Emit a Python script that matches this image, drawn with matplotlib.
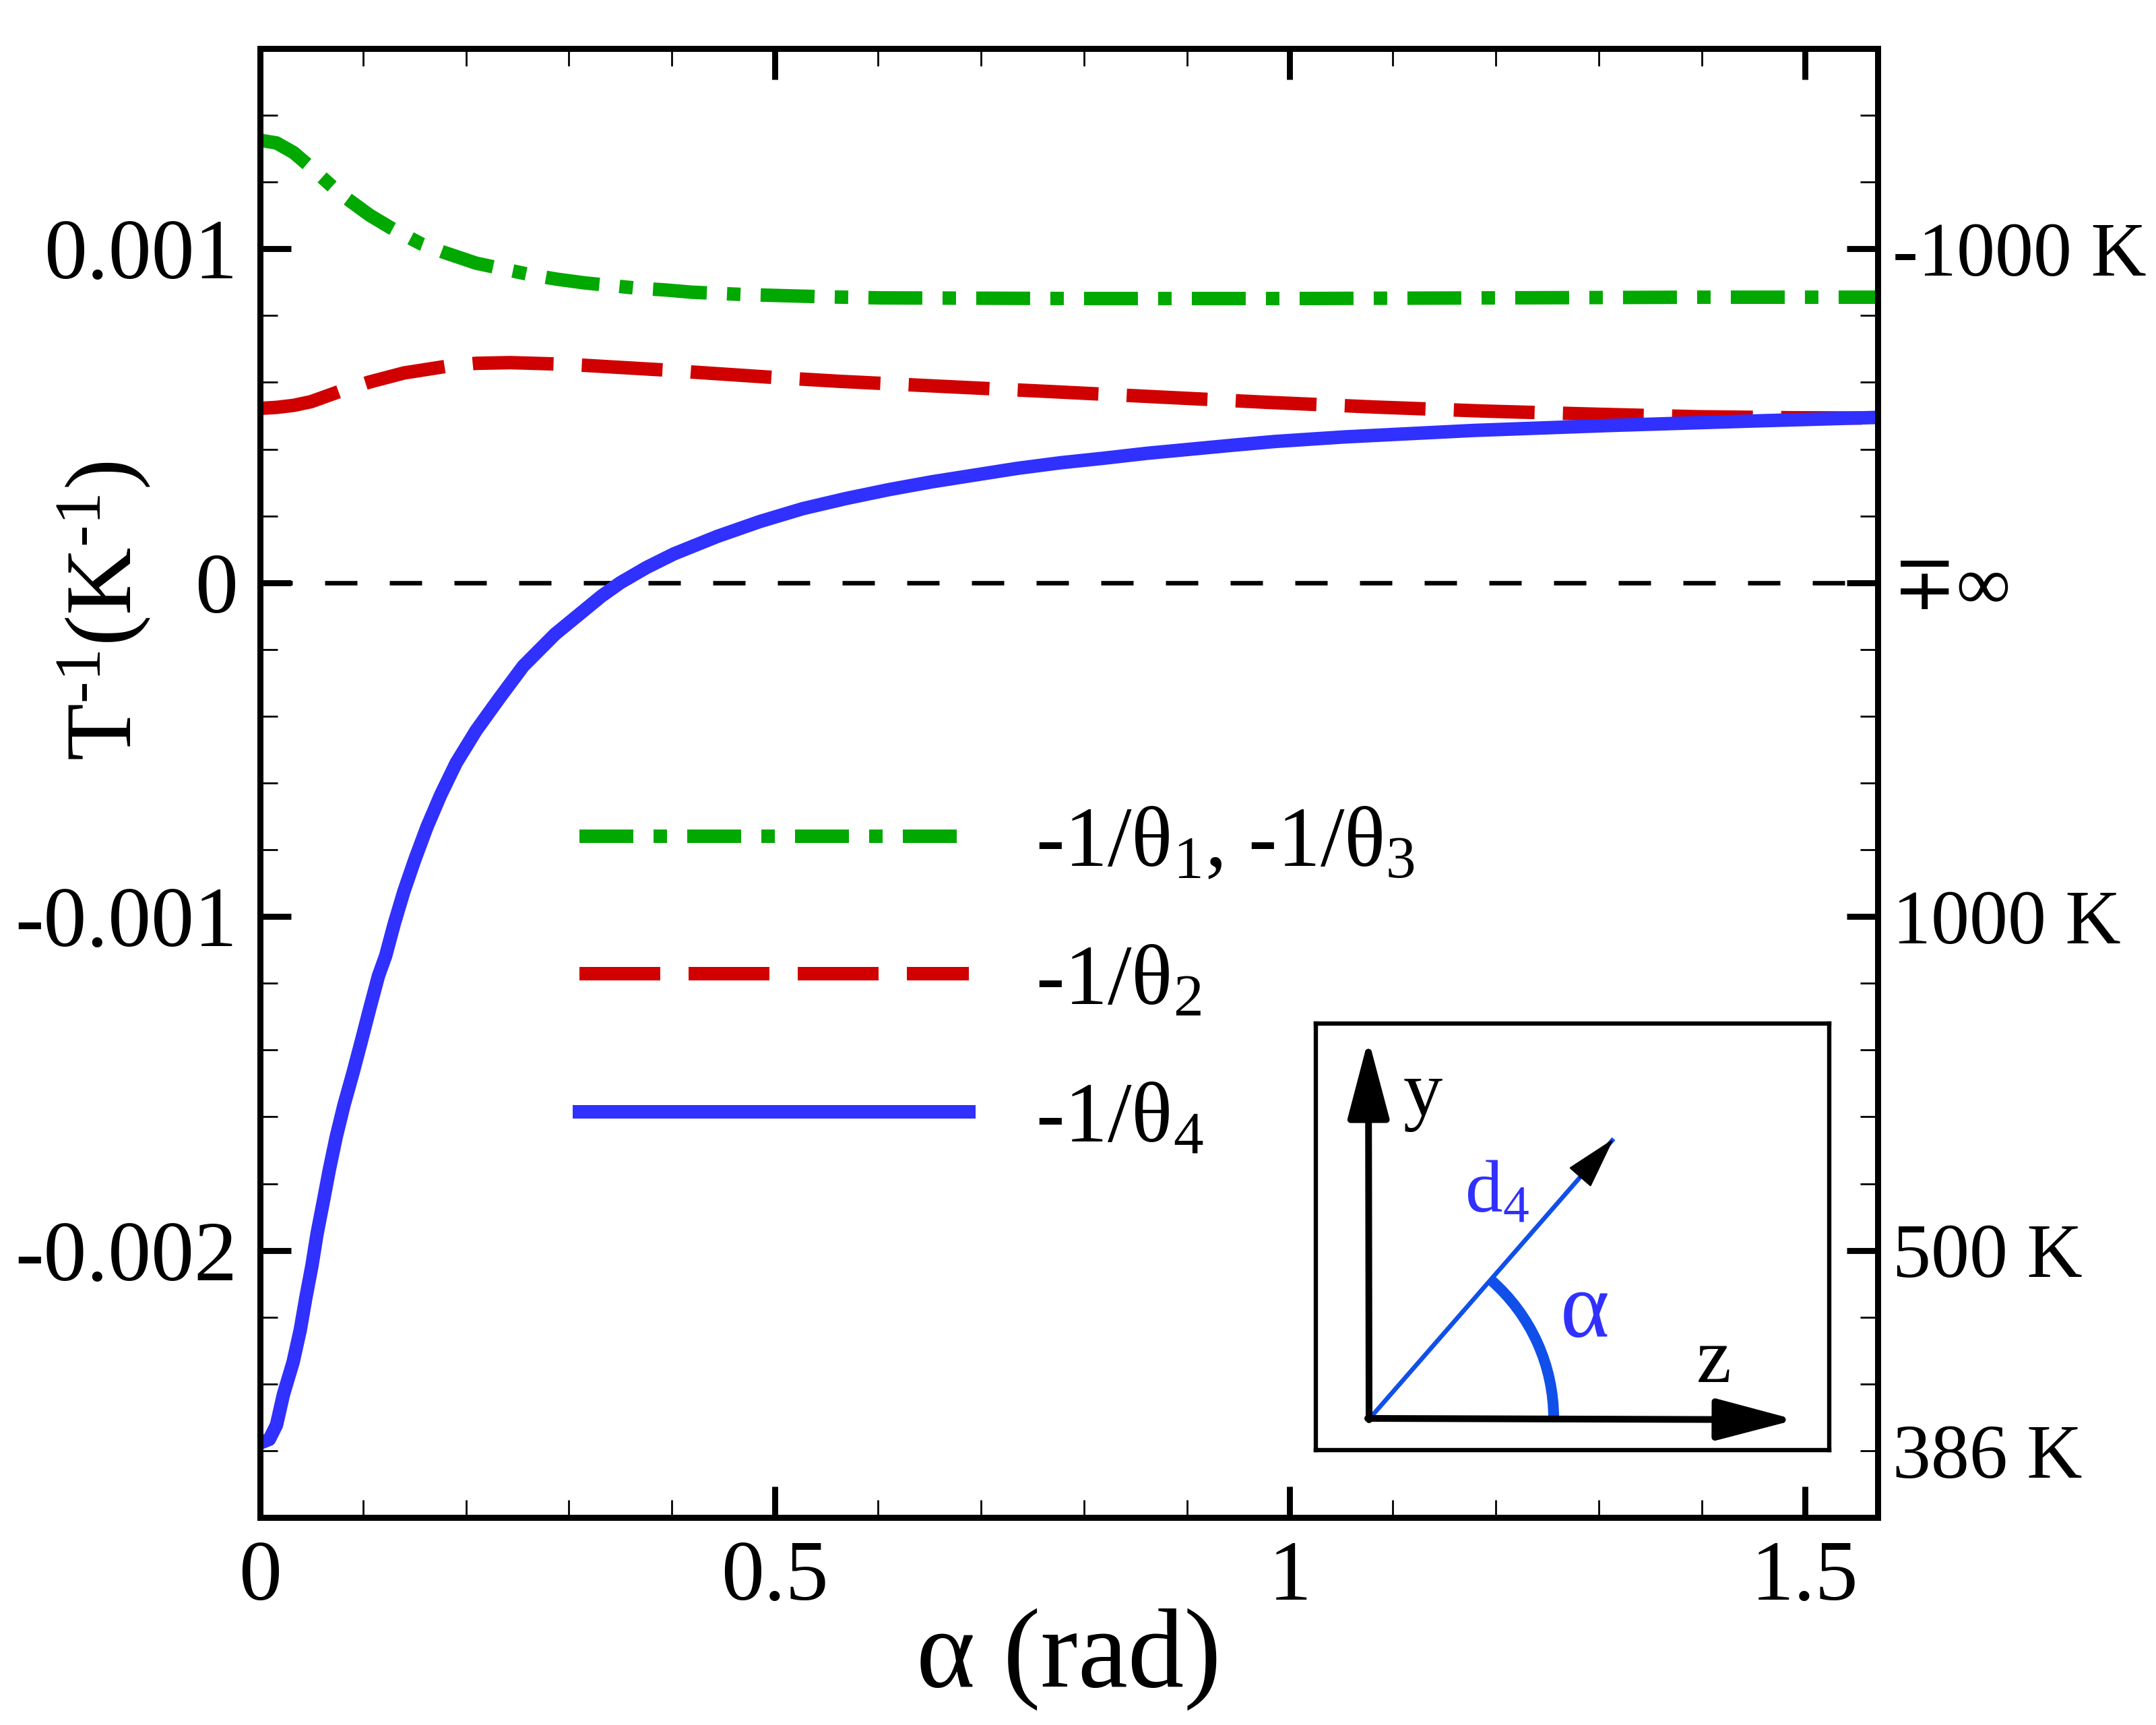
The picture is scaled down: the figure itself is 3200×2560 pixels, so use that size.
import numpy as np
import matplotlib
matplotlib.use('Agg')
import matplotlib.pyplot as plt
from matplotlib.ticker import MultipleLocator, FuncFormatter
from matplotlib.patches import Arc

# values, inverse temperatures in units of 1e-3 K^-1
alpha_13 = [0.0, 0.0161, 0.0327, 0.0512, 0.0728, 0.0846, 0.1063, 0.1263, 0.1563, 0.178, 0.2098,
            0.2615, 0.2882, 0.3149, 0.366, 0.3924, 0.4191, 0.4702, 0.5036, 0.551, 0.603, 0.70,
            0.80, 0.90, 1.00, 1.10, 1.20, 1.30, 1.40, 1.50, 1.5708]
inv_theta_13 = [1.325, 1.317, 1.288, 1.239, 1.179, 1.150, 1.101, 1.064, 1.015, 0.990, 0.957,
                0.923, 0.909, 0.898, 0.882, 0.877, 0.870, 0.863, 0.860, 0.856, 0.853, 0.852,
                0.851, 0.851, 0.851, 0.852, 0.853, 0.854, 0.855, 0.855, 0.855]

alpha_2 = [0.0, 0.0161, 0.0327, 0.0495, 0.0779, 0.1063, 0.1397, 0.183, 0.2098, 0.2432, 0.2876,
           0.3149, 0.3924, 0.4191, 0.4969, 0.563, 0.662, 0.770, 0.874, 0.979, 1.083, 1.188,
           1.292, 1.396, 1.486, 1.5708]
inv_theta_2 = [0.522, 0.525, 0.531, 0.542, 0.5735, 0.601, 0.628, 0.649, 0.657, 0.659, 0.655,
               0.651, 0.637, 0.631, 0.615, 0.603, 0.588, 0.572, 0.556, 0.540, 0.526, 0.514,
               0.505, 0.497, 0.494, 0.493]

alpha_4 = [0.0, 0.009, 0.016, 0.0227, 0.0321, 0.0391, 0.0445, 0.0504, 0.0554, 0.0615, 0.0674,
           0.0740, 0.0816, 0.0903, 0.0986, 0.1067, 0.1150, 0.1220, 0.1304, 0.1397, 0.1504,
           0.1621, 0.1754, 0.1905, 0.2098, 0.2322, 0.2556, 0.2866, 0.3317, 0.350, 0.3751,
           0.4018, 0.4436, 0.4853, 0.527, 0.5687, 0.6106, 0.6523, 0.694, 0.7357, 0.7775,
           0.8192, 0.861, 0.9027, 0.9444, 0.9862, 1.053, 1.179, 1.313, 1.448, 1.5708]
inv_theta_4 = [-2.577, -2.566, -2.523, -2.432, -2.335, -2.238, -2.142, -2.046, -1.950, -1.853, -1.757,
               -1.660, -1.564, -1.468, -1.371, -1.274, -1.178, -1.118, -1.021, -0.925, -0.829,
               -0.732, -0.636, -0.540, -0.443, -0.347, -0.250, -0.154, -0.040, 0.0, 0.045,
               0.086, 0.138, 0.183, 0.2216, 0.2518, 0.2786, 0.302, 0.3223, 0.3425, 0.3592,
               0.3727, 0.3874, 0.3995, 0.4116, 0.4230, 0.4365, 0.456, 0.471, 0.484, 0.495]

labels = ['-1/θ$_1$, -1/θ$_3$', '-1/θ$_2$', '-1/θ$_4$']

x_ticks = [0, 0.5, 1, 1.5]
x_ticklabels = ['0', '0.5', '1', '1.5']
y_ticks = [0.001, 0, -0.001, -0.002]
y_ticklabels = ['0.001', '0', '-0.001', '-0.002']
temp_ticklabels = ['-1000 K', '∓∞', '1000 K', '500 K']
low_temp = -1 / 386.0

plt.rcParams['font.family'] = ['Liberation Serif', 'DejaVu Serif']
plt.rcParams['mathtext.fontset'] = 'custom'
plt.rcParams['mathtext.rm'] = 'Liberation Serif'
plt.rcParams['mathtext.it'] = 'Liberation Serif:italic'
plt.rcParams['axes.unicode_minus'] = False

GREEN = '#00A800'
RED = '#D00000'
BLUE = '#3030FF'
DBLUE = '#1050E8'

fig = plt.figure(figsize=(16, 12.8), dpi=200)
ax = fig.add_axes([0.1206, 0.1203, 0.7503, 0.8516])

ax.axhline(0, color='k', lw=2.4, dashes=(7.2, 7.2), zorder=1)
ax.plot(alpha_13, np.array(inv_theta_13) * 1e-3, color=GREEN, lw=7.2,
        dashes=(4.0, 1.5, 1.0, 1.5), label=labels[0])
ax.plot(alpha_2, np.array(inv_theta_2) * 1e-3, color=RED, lw=7.2,
        dashes=(6.0, 2.1), label=labels[1])
ax.plot(alpha_4, np.array(inv_theta_4) * 1e-3, color=BLUE, lw=7.2, label=labels[2])

ax.set_xlim(0, np.pi / 2)
ax.set_ylim(-0.0028, 0.0016)
ax.set_xticks(x_ticks, x_ticklabels)
ax.set_yticks(y_ticks, y_ticklabels)
ax.xaxis.set_minor_locator(MultipleLocator(0.1))
ax.yaxis.set_minor_locator(MultipleLocator(0.0002))
ax.tick_params(which='both', direction='in', top=True, right=False, labelsize=46, pad=12)
ax.tick_params(which='major', length=16.5, width=3.2)
ax.tick_params(which='minor', length=9.4, width=1.0)

# temperature scale on the right
axr = ax.twinx()
axr.set_ylim(ax.get_ylim())
axr.set_yticks(y_ticks, temp_ticklabels)
axr.yaxis.set_minor_locator(MultipleLocator(0.0002))
axr.yaxis.set_minor_formatter(FuncFormatter(lambda v, p: '386 K' if abs(v - low_temp) < 1.2e-4 and v < -0.0025 else ''))
axr.tick_params(which='both', direction='in', labelsize=41, pad=8)
axr.tick_params(which='major', length=16.5, width=3.2)
axr.tick_params(which='minor', length=9.4, width=1.0)

for a in (ax, axr):
    for s in a.spines.values():
        s.set_linewidth(3.2)

ax.set_xlabel('α (rad)', fontsize=60)
ax.xaxis.set_label_coords(0.5, -0.062)
ax.set_ylabel('T$^{\u20101}$(K$^{\u20101}$)', fontsize=50)
ax.yaxis.set_label_coords(-0.066, 0.617)

ax.legend(loc='upper left', bbox_to_anchor=(860 / 3200, 1 - 1196 / 2560),
          bbox_transform=fig.transFigure, frameon=False, fontsize=46,
          handlelength=4.52, handletextpad=0.78, labelspacing=0.69,
          borderpad=0, borderaxespad=0)

# inset sketch, drawn in pixel units of the box
axi = fig.add_axes([1953 / 3200, 408 / 2560, 762 / 3200, 633 / 2560])
axi.set_xlim(0, 762)
axi.set_ylim(0, 633)
axi.set_xticks([])
axi.set_yticks([])
for s in axi.spines.values():
    s.set_linewidth(2.3)

ox, oy = 80, 47
big_head = dict(arrowstyle='-|>,head_length=36,head_width=9.5', color='k', lw=3.6,
                shrinkA=0, shrinkB=0, mutation_scale=1)
axi.annotate('', xy=(78, 610), xytext=(ox - 1, oy - 2), arrowprops=big_head)
axi.annotate('', xy=(712, 45), xytext=(ox - 3, oy), arrowprops=big_head)

ang = np.deg2rad(48.8)
tip = (442, 462)
axi.plot([ox, tip[0]], [oy, tip[1]], color=DBLUE, lw=2.4, solid_capstyle='butt')
axi.annotate('', xy=tip, xytext=(tip[0] - 76 * np.cos(ang), tip[1] - 76 * np.sin(ang)),
             arrowprops=dict(arrowstyle='-|>,head_length=25,head_width=7', color='k', lw=1.0,
                             shrinkA=0, shrinkB=0, mutation_scale=1))
axi.add_patch(Arc((ox, oy), 2 * 273, 2 * 273, theta1=0, theta2=48.8, color=DBLUE, lw=5.8))

axi.text(159, 497, 'y', fontsize=42, ha='center', va='baseline')
axi.text(591, 101, 'z', fontsize=42, ha='center', va='baseline')
axi.text(221, 353, 'd$_4$', fontsize=40, ha='left', va='baseline', color=BLUE)
axi.text(399, 168, 'α', fontsize=50, ha='center', va='baseline', color=BLUE)

fig.savefig('out.png', dpi=200)
